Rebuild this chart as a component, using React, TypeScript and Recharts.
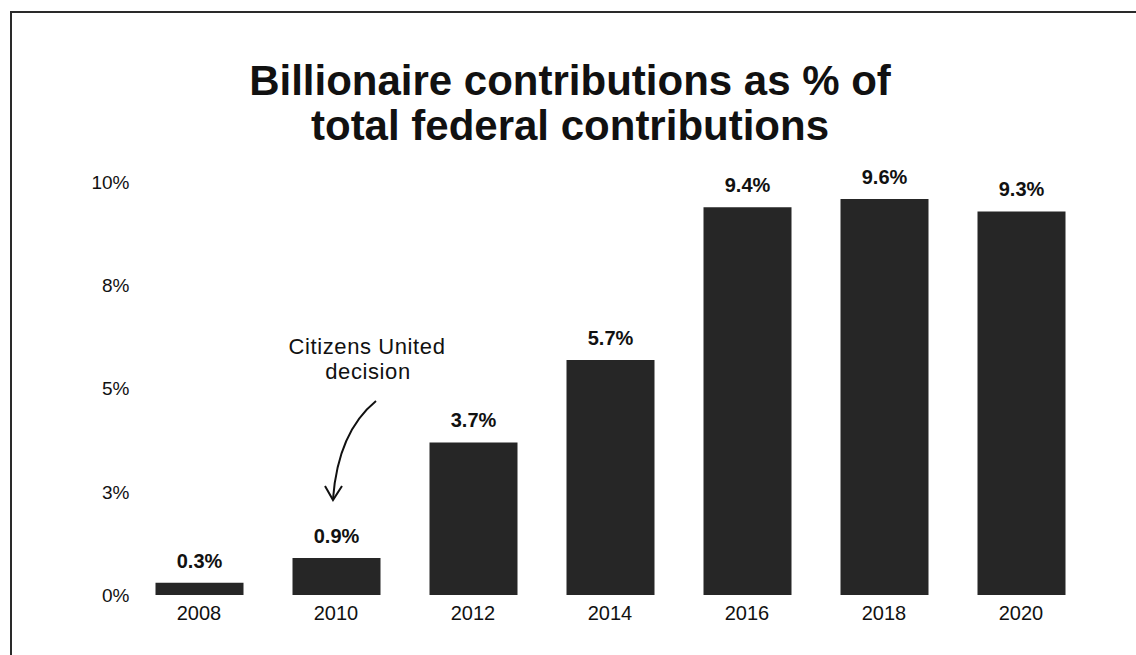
import { BarChart, Bar, XAxis, YAxis, LabelList } from "recharts"

const years = ["2008", "2010", "2012", "2014", "2016", "2018", "2020"]
const shares = [0.3, 0.9, 3.7, 5.7, 9.4, 9.6, 9.3]
const yTicks = [0, 2.5, 5, 7.5, 10]

const data = years.map((year, i) => ({ year, share: shares[i] }))

const font = "'Liberation Sans', Arial, Helvetica, sans-serif"

export default function App() {
    return (
        <div style={{ position: "absolute", left: 0, top: 0, width: 1136, height: 655, background: "#fff", fontFamily: font, overflow: "hidden" }}>
            {/* scanned page edge */}
            <div style={{ position: "absolute", left: 10, top: 11, right: -4, bottom: -4, borderTop: "2px solid #2a2a2a", borderLeft: "2px solid #2a2a2a" }} />

            <div style={{ position: "absolute", left: 0, top: 58, width: 1140, textAlign: "center", fontWeight: 700, fontSize: 42, lineHeight: "45px", color: "#111" }}>
                Billionaire contributions as % of
                <br />
                total federal contributions
            </div>

            <div style={{ position: "absolute" }}>
                <BarChart width={1136} height={655} data={data} margin={{ top: 182.5, right: 46.5, left: 10.5, bottom: 30 }}>
                    <XAxis
                        dataKey="year"
                        axisLine={false}
                        tickLine={false}
                        tickSize={0}
                        tickMargin={11}
                        tick={{ fill: "#111", fontSize: 20, fontFamily: font }}
                        height={30}
                    />
                    <YAxis
                        domain={[0, 10]}
                        ticks={yTicks}
                        axisLine={false}
                        tickLine={false}
                        tickSize={0}
                        tickMargin={1}
                        width={120}
                        tick={{ fill: "#111", fontSize: 19, fontFamily: font }}
                        tickFormatter={(v) => `${Math.round(v)}%`}
                    />
                    <Bar dataKey="share" fill="#262626" barSize={88} isAnimationActive={false}>
                        <LabelList
                            dataKey="share"
                            position="top"
                            offset={15}
                            formatter={(v: any) => `${Number(v).toFixed(1)}%`}
                            style={{ fill: "#111", fontSize: 20, fontWeight: 700, fontFamily: font }}
                        />
                    </Bar>
                </BarChart>
            </div>

            <svg width={1136} height={655} style={{ position: "absolute", left: 0, top: 0, pointerEvents: "none" }}>
                <text x={367} y={354} textAnchor="middle" fontSize={22} letterSpacing={0.6} fill="#111" fontFamily={font}>Citizens United</text>
                <text x={368} y={379} textAnchor="middle" fontSize={22} letterSpacing={0.6} fill="#111" fontFamily={font}>decision</text>
                <path d="M376,401 Q338,432 333,499" fill="none" stroke="#111" strokeWidth={2} />
                <path d="M325,486 L333,500 L342,486" fill="none" stroke="#111" strokeWidth={2} />
            </svg>
        </div>
    )
}
